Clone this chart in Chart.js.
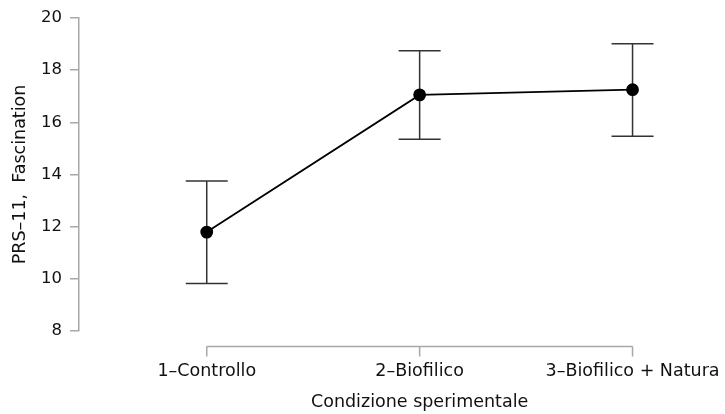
<!DOCTYPE html>
<html>
<head>
<meta charset="utf-8">
<script src="https://cdn.jsdelivr.net/npm/chart.js@4.4.1/dist/chart.umd.min.js"></script>
<style>
  html, body { margin: 0; padding: 0; background: #fff; }
  canvas { display: block; }
</style>
</head>
<body>
<canvas id="c" width="725" height="414"></canvas>
<script>
// Conditions and the PRS-11 Fascination means with their confidence bounds
const conditions = ['1–Controllo', '2–Biofilico', '3–Biofilico + Natura'];
const means = [11.79, 17.05, 17.25];
const upperBounds = [13.75, 18.74, 19.01];
const lowerBounds = [9.82, 15.35, 15.46];
const yTicks = [8, 10, 12, 14, 16, 18, 20];
const xTitle = 'Condizione sperimentale';
const yTitle = 'PRS–11,  Fascination';

const FONT = "'DejaVu Sans', 'Liberation Sans', sans-serif";
const AXIS_GREY = '#a8a8a8';
const TEXT = '#111';

// Vertical error bars with caps, drawn from the y scale
const errorBars = {
  id: 'errorBars',
  beforeDatasetsDraw(chart) {
    const { ctx, scales: { x, y } } = chart;
    const cap = 21;
    ctx.save();
    ctx.strokeStyle = '#333';
    ctx.lineWidth = 1.5;
    means.forEach((m, i) => {
      const px = x.getPixelForValue(i + 1);
      const top = y.getPixelForValue(upperBounds[i]);
      const bot = y.getPixelForValue(lowerBounds[i]);
      ctx.beginPath();
      ctx.moveTo(px, top); ctx.lineTo(px, bot);
      ctx.moveTo(px - cap, top); ctx.lineTo(px + cap, top);
      ctx.moveTo(px - cap, bot); ctx.lineTo(px + cap, bot);
      ctx.stroke();
    });
    ctx.restore();
  }
};

// Detached x axis: line spanning first to last category, tick marks,
// and the axis title centred under that span
const xAxisLine = {
  id: 'xAxisLine',
  afterDraw(chart) {
    const { ctx, chartArea, scales: { x } } = chart;
    const yPos = chartArea.bottom + 15.5;
    const x0 = x.getPixelForValue(1);
    const x1 = x.getPixelForValue(conditions.length);
    ctx.save();
    ctx.strokeStyle = AXIS_GREY;
    ctx.lineWidth = 1.5;
    ctx.beginPath();
    ctx.moveTo(x0, yPos); ctx.lineTo(x1, yPos);
    conditions.forEach((_, i) => {
      const px = x.getPixelForValue(i + 1);
      ctx.moveTo(px, yPos); ctx.lineTo(px, yPos + 10);
    });
    ctx.stroke();
    ctx.fillStyle = TEXT;
    ctx.font = '17.5px ' + FONT;
    ctx.textAlign = 'center';
    ctx.textBaseline = 'middle';
    ctx.fillText(xTitle, (x0 + x1) / 2, chartArea.bottom + 71);
    ctx.restore();
  }
};

new Chart(document.getElementById('c'), {
  type: 'line',
  data: {
    datasets: [{
      data: means.map((m, i) => ({ x: i + 1, y: m })),
      borderColor: '#000',
      borderWidth: 1.8,
      pointBackgroundColor: '#000',
      pointBorderColor: '#000',
      pointRadius: 5.5,
      pointHoverRadius: 5.5,
      tension: 0
    }]
  },
  plugins: [errorBars, xAxisLine],
  options: {
    responsive: false,
    animation: false,
    devicePixelRatio: 1,
    layout: { padding: { top: 16, right: 5, left: 0, bottom: 0 } },
    plugins: { legend: { display: false }, tooltip: { enabled: false } },
    scales: {
      x: {
        type: 'linear',
        min: 0.4,
        max: 3.4,
        afterBuildTicks(scale) { scale.ticks = conditions.map((_, i) => ({ value: i + 1 })); },
        afterFit(scale) { scale.height = 83; scale.paddingLeft = 0; scale.paddingRight = 0; },
        grid: { display: false },
        border: { display: false },
        ticks: {
          padding: 22,
          maxRotation: 0,
          autoSkip: false,
          color: TEXT,
          font: { family: FONT, size: 17.5 },
          callback: (v) => conditions[v - 1]
        }
      },
      y: {
        min: 8,
        max: 20,
        afterBuildTicks(scale) { scale.ticks = yTicks.map(v => ({ value: v })); },
        afterFit(scale) { scale.width = 79; },
        grid: { drawOnChartArea: false, drawTicks: true, tickLength: 9, color: AXIS_GREY, lineWidth: 1.5 },
        border: { display: true, color: AXIS_GREY, width: 1.5 },
        ticks: {
          padding: 8,
          color: TEXT,
          font: { family: FONT, size: 16.5 }
        },
        title: {
          display: true,
          text: yTitle,
          color: TEXT,
          font: { family: FONT, size: 17.5 },
          padding: { top: 10, bottom: 4 }
        }
      }
    }
  }
});
</script>
</body>
</html>
